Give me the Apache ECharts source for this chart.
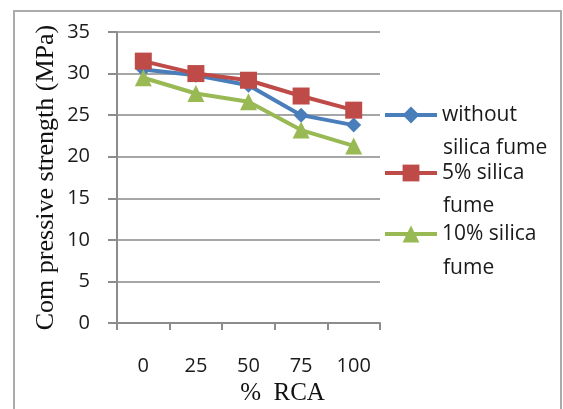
<!DOCTYPE html>
<html>
<head>
<meta charset="utf-8">
<script src="https://cdn.jsdelivr.net/npm/echarts@6/dist/echarts.min.js"></script>
<style>
  html, body { margin: 0; padding: 0; background: #fff; }
  #chart { width: 563px; height: 409px; }
</style>
</head>
<body>
<div id="chart"></div>
<script>
// Compressive strength vs. recycled coarse aggregate replacement
const rcaLevels = ['0', '25', '50', '75', '100'];
const yTicks = { min: 0, max: 35, step: 5 };

const withoutSilicaFume = [30.5, 29.8, 28.6, 25.0, 23.8];
const silicaFume5 = [31.5, 30.0, 29.2, 27.3, 25.6];
const silicaFume10 = [29.5, 27.6, 26.6, 23.2, 21.3];

const seriesNames = ['without', '5% silica', '10% silica'];
const nameContinuations = ['silica fume', 'fume', 'fume'];
const colors = ['#4a7ebb', '#be4b48', '#98b954'];
const symbols = ['diamond', 'rect', 'triangle'];
const symbolSizes = [15, 17, 17];
const values = [withoutSilicaFume, silicaFume5, silicaFume10];

const sansFont = '"Open Sans"';
const serifFont = '"Liberation Serif", "Times New Roman", serif';

const chart = echarts.init(document.getElementById('chart'), null, { renderer: 'canvas' });

// vertical centres of the legend rows and their continuation lines
const legendRowsY = [115, 173, 234];
const continuationY = [147, 205, 267];
const legendItemHeight = 21;

chart.setOption({
  animation: false,
  backgroundColor: '#fff',
  grid: { left: 117, right: 183, top: 32, bottom: 86, containLabel: false, outerBoundsMode: 'none' },
  xAxis: {
    type: 'category',
    data: rcaLevels,
    boundaryGap: true,
    name: '%  RCA',
    nameLocation: 'middle',
    nameGap: 58,
    nameTextStyle: { fontFamily: serifFont, fontSize: 25, color: '#111', padding: [0, 0, 0, 68] },
    axisLine: { show: true, lineStyle: { color: '#8c8c8c', width: 2 } },
    axisTick: { show: true, alignWithLabel: false, length: 7, lineStyle: { color: '#8c8c8c', width: 2 } },
    axisLabel: { margin: 33, fontFamily: sansFont, fontSize: 20, color: '#1a1a1a' },
    splitLine: { show: false }
  },
  yAxis: {
    type: 'value',
    min: yTicks.min,
    max: yTicks.max,
    interval: yTicks.step,
    name: 'Com pressive strength (MPa)',
    nameLocation: 'middle',
    nameGap: 58,
    nameTextStyle: { fontFamily: serifFont, fontSize: 26, color: '#111' },
    axisLine: { show: true, lineStyle: { color: '#8c8c8c', width: 2 } },
    axisTick: { show: true, length: 9, lineStyle: { color: '#8c8c8c', width: 2 } },
    axisLabel: { margin: 27, fontFamily: sansFont, fontSize: 20, color: '#1a1a1a' },
    splitLine: { show: true, lineStyle: { color: '#a6a6a6', width: 2 } }
  },
  legend: seriesNames.map((n, i) => ({
    orient: 'vertical',
    left: 383,
    top: legendRowsY[i] - legendItemHeight / 2,
    itemWidth: 52,
    itemHeight: legendItemHeight,
    itemGap: 0,
    padding: 0,
    data: [n],
    lineStyle: { width: 4 },
    textStyle: { fontFamily: sansFont, fontSize: 21, color: '#1a1a1a' }
  })),
  graphic: [
    {
      type: 'rect',
      shape: { x: 14, y: 11, width: 547, height: 420 },
      style: { fill: null, stroke: '#ababab', lineWidth: 2 },
      silent: true,
      z: -1
    }
  ].concat(nameContinuations.map((t, i) => ({
    type: 'text',
    left: 443,
    top: continuationY[i] - 9,
    style: { text: t, font: '21px ' + sansFont, fill: '#1a1a1a' }
  }))),
  series: values.map((v, i) => ({
    name: seriesNames[i],
    type: 'line',
    data: v,
    symbol: symbols[i],
    symbolSize: symbolSizes[i],
    showAllSymbol: true,
    lineStyle: { color: colors[i], width: 4 },
    itemStyle: { color: colors[i], borderWidth: 0 },
    z: i === 1 ? 3 : (i === 0 ? 2 : 4)
  }))
});
</script>
</body>
</html>
